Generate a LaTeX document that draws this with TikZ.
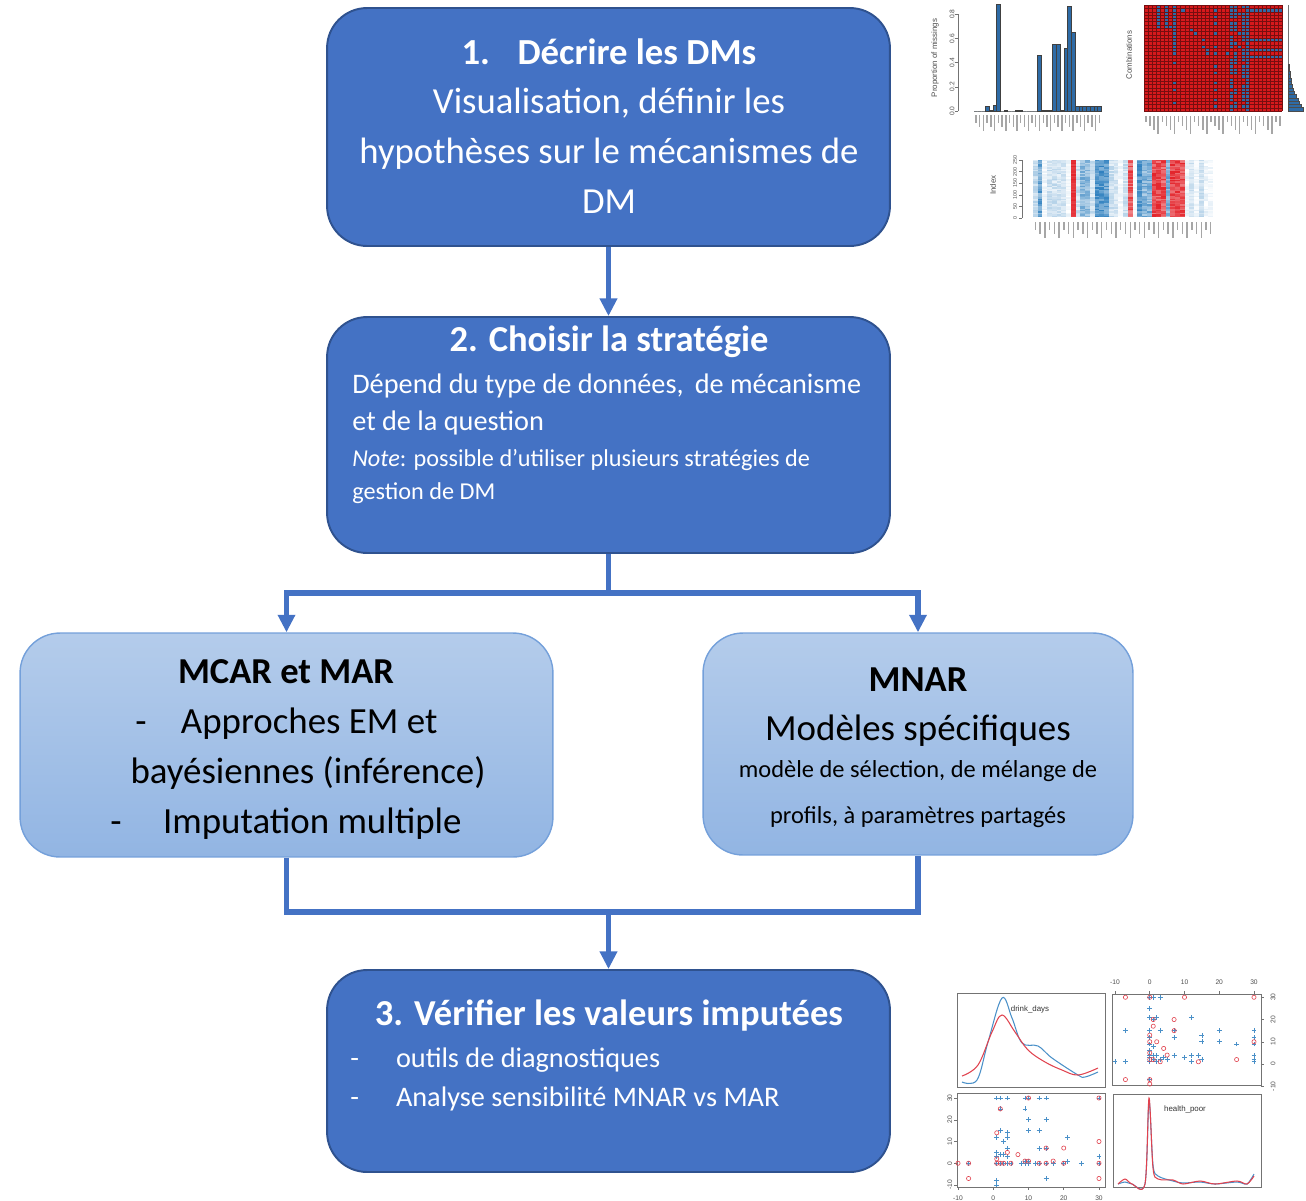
\documentclass[tikz,border=0pt]{standalone}
\usepackage{fontspec}
\setmainfont{Carlito}
\newfontfamily\plotfont{Liberation Sans}
\usetikzlibrary{arrows.meta,positioning}

\definecolor{stepblue}{HTML}{4472C4}
\definecolor{stepedge}{HTML}{2F528F}
\definecolor{pathtop}{RGB}{180,204,235}
\definecolor{pathbot}{RGB}{146,181,227}
\definecolor{pathedge}{RGB}{116,160,218}
\definecolor{barblue}{HTML}{2E6BA6}
\definecolor{mred}{HTML}{D7191C}
\definecolor{heatblue}{HTML}{2F80BF}
\definecolor{heatred}{HTML}{E3242B}
\definecolor{ptblue}{HTML}{4A90C8}
\definecolor{ptred}{HTML}{E0434F}

\tikzset{
  stepbox/.style={draw=stepedge, line width=1.1pt, fill=stepblue, rounded corners=0.8cm, inner sep=0pt},
  pathbox/.style={draw=pathedge, line width=0.8pt, top color=pathtop, bottom color=pathbot, rounded corners=0.8cm, inner sep=0pt},
  flow/.style={draw=stepblue, line width=3.4pt, -{Triangle[width=9.5pt,length=10pt]}},
  link/.style={draw=stepblue, line width=3.4pt},
  txtline/.style={inner sep=0pt, anchor=base},
  whead/.style={txtline, text=white, font=\fontsize{20.8}{25}\selectfont\bfseries},
  bhead/.style={txtline, font=\fontsize{20.8}{25}\selectfont\bfseries},
  wbig/.style={txtline, text=white, font=\fontsize{20.9}{24}\selectfont},
  wmid/.style={txtline, text=white, font=\fontsize{16.1}{20}\selectfont},
  wsmall/.style={txtline, text=white, font=\fontsize{13.8}{17}\selectfont},
  bbig/.style={txtline, font=\fontsize{21}{25}\selectfont},
  bsmall/.style={txtline, font=\fontsize{13.9}{17}\selectfont},
  % small R-style plots
  axisgray/.style={draw=black!55, line width=0.3pt},
  labgray/.style={draw=black!35, line width=0.8pt},
  gridline/.style={draw=mred!55!black, line width=0.12pt},
  panel/.style={draw=black!55, line width=0.5pt},
  ticklab/.style={inner sep=0pt, text=black!70, font=\plotfont\fontsize{3.8}{4}\selectfont},
  plotlab/.style={inner sep=0pt, text=black!80, font=\plotfont\fontsize{4.5}{5}\selectfont},
  pplus/.pic={\draw[ptblue, line width=0.4pt] (-1.4pt,0) -- (1.4pt,0) (0,-1.4pt) -- (0,1.4pt);},
  pring/.pic={\draw[ptred, line width=0.35pt] (0,0) circle (1.2pt);}
}

\begin{document}
\begin{tikzpicture}[x=0.02cm, y=-0.02cm]
\useasboundingbox (0,0) rectangle (1306,1201);

% boxes
\node[stepbox, minimum width=11.26cm, minimum height=4.76cm] (describe) at (608.5,127) {};
\node[stepbox, minimum width=11.26cm, minimum height=4.72cm] (choose) at (608.5,435) {};
\node[pathbox, minimum width=10.66cm, minimum height=4.48cm] (ignorable) at (286.5,745) {};
\node[pathbox, minimum width=8.6cm, minimum height=4.44cm] (mnar) at (918,744) {};
\node[stepbox, minimum width=11.26cm, minimum height=4.04cm] (verify) at (608.5,1071) {};

% step 1
\node[whead, font=\fontsize{20.9}{24}\selectfont\bfseries] (describeT) at (609,64) {1.\hspace{0.75em}Décrire les DMs};
\node[wbig] (describeA) at (609,113) {Visualisation, définir les};
\node[wbig] (describeB) at (609,163) {hypothèses sur le mécanismes de};
\node[wbig] (describeC) at (609,213) {DM};

% step 2
\node[whead] (chooseT) at (609,351) {2. Choisir la stratégie};
\node[wmid, anchor=base west] (chooseA) at (352,393) {Dépend du type de données,\, de mécanisme};
\node[wmid, anchor=base west] (chooseB) at (352,430) {et de la question};
\node[wsmall, anchor=base west] (chooseC) at (352,466) {\textit{Note}: possible d’utiliser plusieurs stratégies de};
\node[wsmall, anchor=base west] (chooseD) at (352,499) {gestion de DM};

% MCAR / MAR
\node[bhead] (ignorableT) at (286,683) {MCAR et MAR};
\node[bbig, anchor=base west] (ignorableA) at (135,733) {\makebox[26pt][l]{-}Approches EM et};
\node[bbig] (ignorableB) at (308,783) {bayésiennes (inférence)};
\node[bbig, anchor=base west] (ignorableC) at (110,833) {\makebox[30pt][l]{-}Imputation multiple};

% MNAR
\node[bhead] (mnarT) at (918,691) {MNAR};
\node[bbig] (mnarA) at (918,740) {Modèles spécifiques};
\node[bsmall] (mnarB) at (918,777) {modèle de sélection, de mélange de};
\node[bsmall] (mnarC) at (918,823) {profils, à paramètres partagés};

% step 3
\node[whead] (verifyT) at (609,1025) {3. Vérifier les valeurs imputées};
\node[wmid, anchor=base west] (verifyA) at (350,1067) {\makebox[26pt][l]{-}outils de diagnostiques};
\node[wmid, anchor=base west] (verifyB) at (350,1106) {\makebox[26pt][l]{-}Analyse sensibilité MNAR vs MAR};

% arrows
\draw[flow] (describe.south) -- (choose.north);
\coordinate (split) at (608.5,593);
\draw[link] (choose.south) -- (split);
\draw[flow] (split) -| (ignorable.north);
\draw[flow] (split) -| (mnar.north);
\coordinate (merge) at (608.5,912);
\draw[link] (ignorable.south) |- (merge) -| (mnar.south);
\draw[flow] (merge) -- (verify.north);

% proportion of missings
\draw[axisgray] (958,111) -- (958,14);
\foreach \v [count=\k from 0] in {0.0,0.2,0.4,0.6,0.8} {
  \draw[axisgray] (958,111-121*\v) -- ++(-3,0);
  \node[ticklab, rotate=90] (propTick\k) at (952,111-121*\v) {\v};
}
\node[ticklab, rotate=90, font=\plotfont\fontsize{4.5}{5}\selectfont] (propLab) at (935,58) {Proportion of missings};
\foreach \v [count=\i from 0] in {0,0,0,0.04,0.01,0.05,0.88,0,0.01,0,0,0.01,0.01,0,0,0,0,0.46,0.01,0.01,0.01,0.55,0.55,0.01,0.52,0.87,0.65,0.04,0.04,0.04,0.04,0.04,0.04,0.04}
  \filldraw[fill=barblue, draw=black!75, line width=0.2pt] (974+3.74*\i,111) rectangle ++(3.74,-121*\v);
\foreach \i in {0,...,33}
  \draw[labgray] (975.9+3.74*\i,115) -- ++(0,{8+4*mod(\i,3)});

% combinations
\fill[mred] (1144,5) rectangle (1282,111);
\foreach \c/\rs in {3/{0,...,6}, 5/{0,...,6}, 6/{6}, 7/{0,...,14,17,23,25,29}, 9/{1}, 11/{7}, 12/{8}, 14/{10,12},
    15/{13,14}, 17/{1,3,5,8,12,14,18,20,23,25,28,30}, 20/{14}, 23/{2,8,12},
    21/{0,1,2,3,5,6,7,9,10,11,12,16,17,18,19,20,22,23,24,26,27,28,30,31},
    22/{0,1,2,3,5,6,7,11,14,15,16,17,19,20,25,26,29,30},
    24/{0,2,3,4,5,6,7,8,9,10,13,14,15,16,18,19,20,21,24,25,26,27,28,30}, 25/{0,...,31}}
  \foreach \r in \rs
    \fill[barblue] (1144+4.06*\c,5+3.31*\r) rectangle ++(4.06,3.31);
\foreach \c in {26,...,33}
  \foreach \r in {1,10,13,15}
    \fill[barblue] (1144+4.06*\c,5+3.31*\r) rectangle ++(4.06,3.31);
\foreach \c in {0,...,34} \draw[gridline] (1144+4.06*\c,5) -- ++(0,106);
\foreach \r in {0,...,32} \draw[gridline] (1144,5+3.31*\r) -- ++(138,0);
\draw[axisgray] (1288,5) -- (1288,111);
\foreach \r/\len in {18/1,19/1,20/2,21/2,22/3,23/3,24/4,25/5,26/6,27/8,28/10,29/11,30/13,31/15}
  \filldraw[fill=barblue, draw=black!70, line width=0.15pt] (1288,5+3.31*\r) rectangle ++(\len,3.31);
\node[ticklab, rotate=90, font=\plotfont\fontsize{4.5}{5}\selectfont] (combLab) at (1129,55) {Combinations};
\foreach \c in {0,...,33}
  \draw[labgray] (1146+4.06*\c,116) -- ++(0,{6+4*mod(\c,4)});

% matrix of values
\pgfmathsetseed{11}
\foreach \col/\lo/\hi [count=\c from 0] in {heatblue/15/40, heatblue/45/95, heatblue/0/15, heatblue/10/35,
    heatblue/10/35, heatblue/10/35, heatblue/10/30, heatblue/0/12, heatred/85/100, heatblue/10/35,
    heatblue/35/75, heatblue/35/75, heatblue/10/35, heatblue/60/100, heatblue/60/100, heatblue/55/95,
    heatblue/10/35, heatblue/10/30, heatblue/0/12, heatblue/10/35, heatred/50/100, heatblue/0/8,
    heatblue/60/100, heatblue/35/80, heatblue/35/80, heatred/60/100, heatred/60/100, heatred/55/100,
    heatblue/40/80, heatred/65/100, heatred/65/100, heatred/60/100, heatblue/0/15, heatblue/10/30,
    heatblue/0/15, heatblue/10/35, heatblue/0/15, heatblue/0/12}
  \foreach \r in {0,...,39} {
    \pgfmathtruncatemacro\shade{random(\lo,\hi)}
    \fill[\col!\shade!white] (1033+4.74*\c,160+1.43*\r) rectangle ++(4.74,1.43);
  }
\draw[axisgray] (1022,160) -- (1022,218);
\foreach \t [count=\k from 0] in {0,50,100,150,200,250} {
  \draw[axisgray] (1022,218-11.6*\k) -- ++(-3,0);
  \node[ticklab, rotate=90, font=\plotfont\fontsize{3}{3}\selectfont] (idxTick\k) at (1015,218-11.6*\k) {\t};
}
\node[ticklab, rotate=90, font=\plotfont\fontsize{4.5}{5}\selectfont] (idxLab) at (993,185) {Index};
\foreach \c in {0,...,37}
  \draw[labgray] (1035.4+4.74*\c,222) -- ++(0,{8+4*mod(\c,3)});

% imputed vs observed: densities
\draw[panel] (957,993) rectangle (1105,1087);
\draw[ptblue, line width=0.6pt] plot[smooth, tension=0.6] coordinates {(962,1082) (977,1080) (988,1042) (1002,998) (1012,1018) (1022,1043) (1038,1046) (1052,1058) (1078,1075) (1085,1077) (1098,1072)};
\draw[ptred, line width=0.6pt] plot[smooth, tension=0.6] coordinates {(962,1076) (978,1065) (992,1032) (1002,1015) (1015,1032) (1028,1050) (1045,1062) (1062,1070) (1078,1075) (1098,1068)};
\node[plotlab] (drinkLab) at (1030,1009) {drink\_days};

\draw[panel] (1113,1094) rectangle (1261,1187);
\draw[ptblue, line width=0.6pt] plot[smooth, tension=0.5] coordinates {(1118,1184) (1125,1182) (1132,1184) (1145,1184) (1149,1101) (1153,1165) (1158,1176) (1173,1181) (1183,1183) (1200,1182) (1215,1184) (1237,1182) (1247,1184) (1254,1174)};
\draw[ptred, line width=0.6pt] plot[smooth, tension=0.5] coordinates {(1118,1184) (1125,1179) (1132,1184) (1145,1184) (1149,1098) (1153,1168) (1158,1179) (1173,1180) (1183,1184) (1200,1181) (1215,1184) (1237,1181) (1247,1184) (1254,1176)};
\node[plotlab] (healthLab) at (1185,1109) {health\_poor};

% imputed vs observed: scatter
\draw[panel] (1112,994) rectangle (1261,1085);
\begin{scope}[shift={(1149.75,1064)}, x=0.0695cm, y=0.0445cm]
  \foreach \t [count=\k] in {-10,0,10,20,30} {
    \draw[axisgray] (\t,31.5) -- ++(0,1.4);
    \node[ticklab] (topTick\k) at (\t,36.8) {\t};
    \draw[axisgray] (32,\t) -- ++(0.9,0);
    \node[ticklab, rotate=90] (rightTick\k) at (35.5,\t) {\t};
  }
  \foreach \a/\b in {0/30,1/30,3/30,0/25,0/21,2/21,1/20,12/21,-7/15,0/15,3/15,7/15,0/12,7/12,15/13,20/15,30/15,30/12,15/10,20/10,25/9,30/9,0/9,1/8,0/4,1/4,2/4,0/3,1/2,0/1,-10/1,-7/1,4/3,7/4,10/3,12/4,14/4,12/1,15/2,30/4,30/1,30/2,0/-7,2/1,3/2,5/2,0/6}
    \pic at (\a,\b) {pplus};
  \foreach \a/\b in {-7/30,10/30,30/30,0/30,1/20,7/20,1/17,0/13,2/10,4/7,5/4,14/1,25/2,-7/-7,0/-9,0/-7,0/10,3/1,1/2,7/15,30/10,0/5,0/2}
    \pic at (\a,\b) {pring};
\end{scope}

\draw[panel] (957,1093) rectangle (1105,1187);
\begin{scope}[shift={(993.25,1163.25)}, x=0.0705cm, y=0.0435cm]
  \foreach \t [count=\k] in {-10,0,10,20,30} {
    \draw[axisgray] (-10.3,\t) -- ++(-0.9,0);
    \node[ticklab, rotate=90] (leftTick\k) at (-12.3,\t) {\t};
    \draw[axisgray] (\t,-10.9) -- ++(0,-1.4);
    \node[ticklab] (bottomTick\k) at (\t,-15.9) {\t};
  }
  \foreach \a/\b in {1/30,2/30,4/30,9/30,10/30,13/30,15/30,30/30,9/25,2/25,10/20,15/20,10/15,13/15,2/15,4/14,4/12,1/12,21/12,3/10,4/7,13/7,15/7,1/5,2/4,3/4,4/3,1/3,-7/0,1/0,2/0,3/0,4/0,5/0,8/0,9/0,10/0,12/0,13/0,15/0,17/0,20/0,21/1,25/0,30/0,30/3,1/-8,1/-10,15/-7,9/1,10/1}
    \pic at (\a,\b) {pplus};
  \foreach \a/\b in {2/25,1/14,4/5,7/4,10/30,30/30,15/7,20/7,30/10,30/-7,-10/0,-7/-7,-7/0,1/2,9/1,10/1,17/1,20/0,2/0,5/0,13/0,30/0,1/0,3/0,15/0}
    \pic at (\a,\b) {pring};
\end{scope}

\end{tikzpicture}
\end{document}
